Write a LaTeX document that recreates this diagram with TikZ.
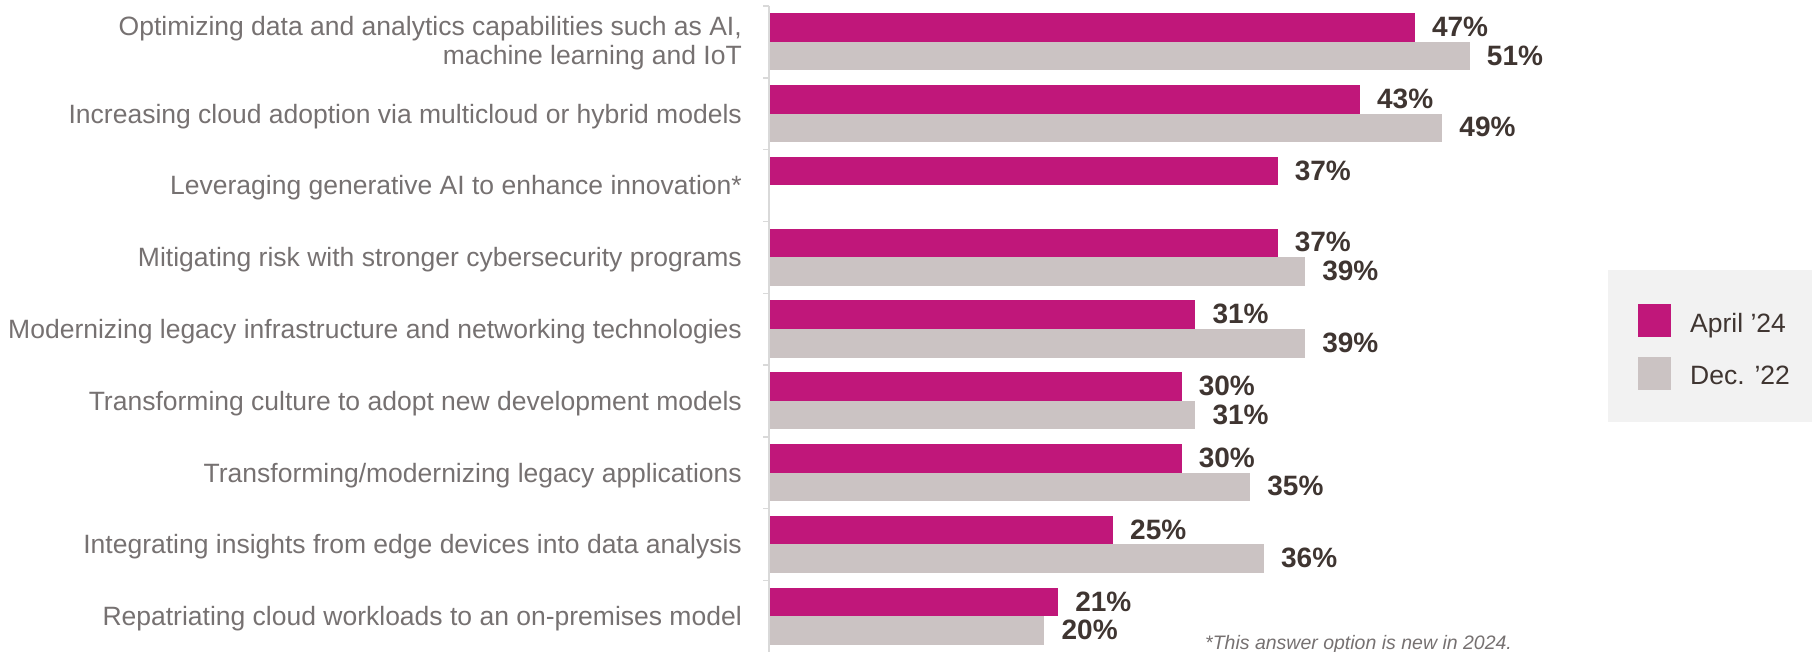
\documentclass[tikz,border=0pt]{standalone}
\usepackage{fontspec}
\setmainfont{Liberation Sans}
\definecolor{april}{HTML}{C0177A}
\definecolor{decbar}{HTML}{CBC3C3}
\definecolor{labelgray}{HTML}{767171}
\definecolor{valuedark}{HTML}{3F3531}
\definecolor{axisgray}{HTML}{D9D9D9}
\definecolor{legendbg}{HTML}{F2F2F2}
\tikzset{
  catlabel/.style={anchor=base east,align=right,text=labelgray,inner sep=0pt,
    font=\fontsize{26.5}{29}\selectfont},
  pctlabel/.style={anchor=base west,text=valuedark,inner sep=0pt,
    font=\fontsize{28}{30}\selectfont\bfseries},
  legtext/.style={anchor=base west,text=valuedark,inner sep=0pt,
    font=\fontsize{26.5}{30}\selectfont},
  notetext/.style={anchor=base west,text=labelgray,inner sep=0pt,
    font=\fontsize{19.5}{20}\selectfont\itshape}
}
\begin{document}
\begin{tikzpicture}[x=1pt,y=-1pt]
\useasboundingbox (0,0) rectangle (1812,652);
\draw[axisgray,line width=1.5pt] (769,6) -- (769,652);
\foreach \k in {0,...,8}
  \draw[axisgray,line width=1.5pt] (763,6.1+71.8*\k) -- (769,6.1+71.8*\k);
\foreach \i/\a/\b/\txt in {
  1/47/51/{Optimizing data and analytics capabilities such as AI,\\machine learning and IoT},
  2/43/49/{Increasing cloud adoption via multicloud or hybrid models},
  3/37/0/{Leveraging generative AI to enhance innovation*},
  4/37/39/{Mitigating risk with stronger cybersecurity programs},
  5/31/39/{Modernizing legacy infrastructure and networking technologies},
  6/30/31/{Transforming culture to adopt new development models},
  7/30/35/{Transforming/modernizing legacy applications},
  8/25/36/{Integrating insights from edge devices into data analysis},
  9/21/20/{Repatriating cloud workloads to an on-premises model}}{
  \pgfmathsetmacro\rowtop{13.3+71.8*(\i-1)}
  \fill[april] (770,\rowtop) rectangle (770+13.72*\a,\rowtop+28.5);
  \node[pctlabel] (a\i) at (770+13.72*\a+17,\rowtop+23.3) {\a\%};
  \ifnum\b>0
    \fill[decbar] (770,\rowtop+28.5) rectangle (770+13.72*\b,\rowtop+57);
    \node[pctlabel] (b\i) at (770+13.72*\b+17,\rowtop+51.8) {\b\%};
  \fi
  \ifnum\i=1
    \node[catlabel] (cat\i) at (742,65) {\txt};
  \else
    \node[catlabel] (cat\i) at (742,\rowtop+38) {\txt};
  \fi
}
\fill[legendbg] (1608,270) rectangle (1812,422);
\fill[april] (1638,304) rectangle (1671,337);
\fill[decbar] (1638,357) rectangle (1671,390);
\node[legtext] (legA) at (1690,332) {April ’24};
\node[legtext] (legB) at (1690,384) {Dec. ’22};
\node[notetext] (note) at (1205,649) {*This answer option is new in 2024.};
\end{tikzpicture}
\end{document}
